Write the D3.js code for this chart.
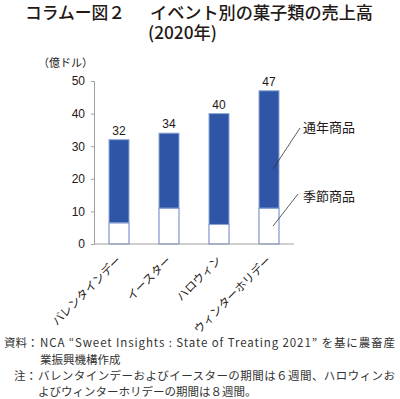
<!DOCTYPE html>
<html>
<head>
<meta charset="utf-8">
<script src="https://cdn.jsdelivr.net/npm/d3@7"></script>
<style>
  body { margin: 0; background: #fff; }
  svg text { font-family: "Noto Sans CJK JP", sans-serif; fill: #231815; }
  .num { font-family: "Liberation Sans", Arial, sans-serif; }
</style>
</head>
<body>
<svg id="chart" width="400" height="399"></svg>
<script>
// data (億ドル)
const events = ["バレンタインデー", "イースター", "ハロウィン", "ウィンターホリデー"];
const seasonal = [6.5, 11, 6, 11];
const yearRound = [25.5, 23, 34, 36];
const totals = [32, 34, 40, 47];
const yTicks = [0, 10, 20, 30, 40, 50];

const svg = d3.select("#chart");

// title (widths fitted to the original)
function title(xp, yp, len, s) {
    svg.append("text").attr("x", xp).attr("y", yp)
        .attr("textLength", len).attr("lengthAdjust", "spacingAndGlyphs")
        .style("font-size", "17px").style("font-weight", 500)
        .text(s);
}
title(25, 19, 100, "コラムー図２");
title(150, 19, 223, "イベント別の菓子類の売上高");
title(148, 39, 69, "(2020年)");

svg.append("text").attr("x", 38).attr("y", 67)
    .style("font-size", "11px")
    .text("（億ドル）");

// scales
const x = d3.scaleBand().domain(events).range([94, 294]).paddingInner(0.6).paddingOuter(0.3);
const y = d3.scaleLinear().domain([0, 50]).range([244, 81]);

// y axis
const yAxis = svg.append("g").attr("transform", "translate(94,0)")
    .call(d3.axisLeft(y).tickValues(yTicks).tickSize(3).tickPadding(6));
yAxis.select(".domain").attr("stroke", "#a0a0a0");
yAxis.selectAll(".tick line").attr("stroke", "#a0a0a0");
yAxis.selectAll(".tick text").attr("class", "num").style("font-size", "12px").attr("fill", "#231815");

// bars: seasonal (white) + year-round (blue)
const g = svg.append("g");
events.forEach((e, i) => {
    g.append("rect")
        .attr("x", x(e)).attr("width", x.bandwidth())
        .attr("y", y(seasonal[i])).attr("height", y(0) - y(seasonal[i]))
        .attr("fill", "#fff").attr("stroke", "#7f97d0").attr("stroke-width", 1.2);
    g.append("rect")
        .attr("x", x(e)).attr("width", x.bandwidth())
        .attr("y", y(seasonal[i] + yearRound[i])).attr("height", y(seasonal[i]) - y(seasonal[i] + yearRound[i]))
        .attr("fill", "#2f56a6").attr("stroke", "#8ea5d8").attr("stroke-width", 1);
    g.append("text").attr("class", "num")
        .attr("x", x(e) + x.bandwidth() / 2).attr("y", y(totals[i]) - 5)
        .attr("text-anchor", "middle").style("font-size", "12px")
        .text(totals[i]);
    g.append("text")
        .attr("transform", `translate(${x(e) + x.bandwidth() / 2 + 3},261) rotate(-45)`)
        .attr("text-anchor", "end").style("font-size", "11.5px")
        .text(e);
});

// x axis line
svg.append("line").attr("x1", 94).attr("x2", 294).attr("y1", y(0)).attr("y2", y(0))
    .attr("stroke", "#a0a0a0");

// annotations
const last = events[3];
const cx = x(last) + x.bandwidth() / 2;
svg.append("line").attr("x1", cx + 4).attr("y1", y(23)).attr("x2", 300).attr("y2", 128)
    .attr("stroke", "#333").attr("stroke-width", 0.8);
svg.append("line").attr("x1", cx + 4).attr("y1", y(5.5)).attr("x2", 298).attr("y2", 194)
    .attr("stroke", "#333").attr("stroke-width", 0.8);
svg.append("text").attr("x", 303).attr("y", 132).style("font-size", "13px").text("通年商品");
svg.append("text").attr("x", 303).attr("y", 201).style("font-size", "13px").text("季節商品");

// notes: [x, baseline, fitted width or 0, text]
const notes = [
    [4, 347, 0, "資料："],
    [40, 347, 355, "NCA “Sweet Insights : State of Treating 2021” を基に農畜産"],
    [40, 364, 0, "業振興機構作成"],
    [14, 380, 0, "注："],
    [38, 380, 357, "バレンタインデーおよびイースターの期間は６週間、ハロウィンお"],
    [38, 396, 0, "よびウィンターホリデーの期間は８週間。"]
];
notes.forEach(d => {
    const t = svg.append("text")
        .attr("x", d[0]).attr("y", d[1])
        .style("font-size", "11.5px").style("fill", "#333")
        .text(d[3]);
    if (d[2]) t.attr("textLength", d[2]).attr("lengthAdjust", "spacing");
});
</script>
</body>
</html>
